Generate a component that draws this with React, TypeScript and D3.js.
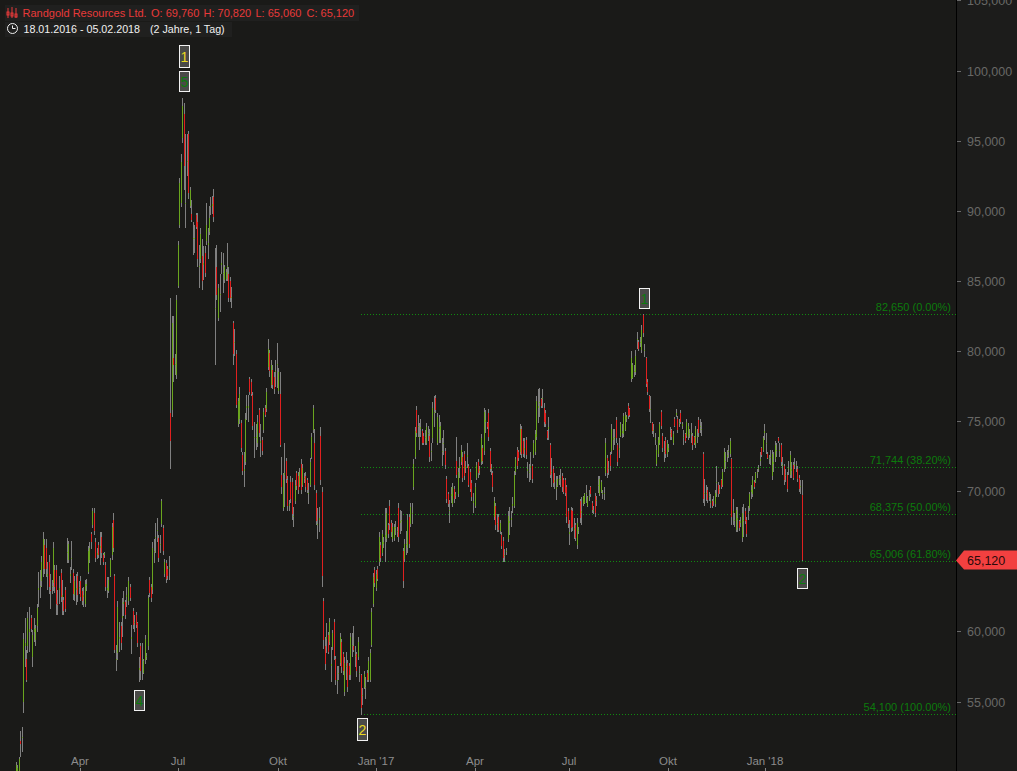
import React, { useRef, useEffect } from "react";
import * as d3 from "d3";

// daily bars 18.01.2016 - 05.02.2018, prices in hundreds
const highs = [
  490,488,485,483,486,489,492,495,498,500,
  507,505,511,529,532,599,610,587,614,618,
  612,601,610,605,620,643,644,654,671,666,
  666,650,655,641,637,664,648,648,630,640,
  645,637,625,632,667,665,646,665,645,640,
  641,643,636,640,631,632,637,638,661,664,
  671,688,688,667,660,664,671,671,656,657,
  650,639,639,653,678,685,641,591,622,607,
  607,624,629,623,632,639,634,605,617,612,
  614,607,582,592,592,581,598,585,626,639,
  634,664,666,678,681,669,669,695,676,652,
  651,647,654,838,825,825,798,840,879,924,
  941,981,977,955,955,957,917,908,892,890,
  899,899,876,888,880,875,875,906,888,904,
  910,911,916,874,876,848,855,871,870,862,
  859,877,860,853,846,822,816,801,767,775,
  751,728,728,756,769,769,782,780,771,750,
  748,755,760,748,739,760,762,774,809,801,
  794,790,785,794,806,788,785,725,713,735,
  724,711,694,711,710,689,708,715,714,717,
  723,720,713,714,710,706,724,742,762,745,
  701,688,689,746,703,624,596,606,600,610,
  589,601,609,583,576,576,599,595,586,582,
  586,580,578,599,599,604,590,586,596,576,
  570,560,572,568,573,582,588,617,642,646,
  644,647,671,664,673,668,688,688,678,694,
  680,678,677,679,675,692,687,686,660,666,
  672,684,684,692,692,723,746,761,755,749,
  752,745,742,744,749,747,745,735,764,768,
  769,756,755,750,738,744,731,711,700,694,
  703,706,704,700,739,717,725,733,728,729,
  722,735,720,716,708,699,706,721,723,718,
  741,733,760,758,750,759,731,720,715,696,
  692,684,684,680,671,668,659,660,686,689,
  686,696,715,725,732,730,748,747,738,738,
  739,721,720,728,720,737,744,768,773,774,
  767,773,763,758,744,753,735,724,718,713,
  711,711,712,716,713,710,710,705,688,680,
  689,688,681,678,681,675,695,696,697,699,
  705,697,701,704,693,690,699,697,711,711,
  708,701,703,738,726,722,728,748,745,745,
  753,735,738,750,748,756,757,755,763,760,
  800,792,790,801,814,808,810,819,827,
  805,796,780,769,768,750,748,742,733,739,
  750,758,742,736,739,737,734,746,745,743,
  753,759,754,752,758,750,744,742,752,749,
  745,749,742,740,747,745,753,752,750,728,
  709,705,703,700,698,695,697,701,718,707,
  705,709,716,731,728,730,733,738,724,695,
  685,689,689,680,682,689,691,688,682,690,
  700,705,711,708,714,716,719,728,732,740,
  748,742,728,726,730,730,728,736,735,739,
  735,735,725,720,716,714,722,729,721,721,
  724,722,718,712,708,708.2,
];

const lows = [
  470,468,466,465,468,470,472,476,480,485,
  490,490,490,511,514,542,575,564,585,586,
  600,575,593,590,600,618,624,632,639,641,
  639,630,627,616,627,629,628,612,612,620,
  621,612,612,614,649,649,635,644,623,622,
  619,621,627,622,619,618,618,629,641,649,
  659,674,669,650,652,653,648,653,648,653,
  629,624,628,639,651,657,585,572,580,586,
  587,596,611,609,618,619,622,584,602,600,
  603,589,564,566,566,570,577,580,587,625,
  621,627,649,656,664,650,656,675,655,639,
  635,637,637,716,753,778,783,780,845,888,
  903,949,915,888,925,909,902,892,869,870,
  887,860,845,863,844,851,853,876,866,883,
  897,898,892,790,837,822,828,855,842,849,
  850,850,835,835,831,790,797,760,746,748,
  728,712,703,719,751,750,769,768,744,724,
  730,732,739,725,726,742,753,757,787,782,
  774,773,770,775,774,770,732,698,686,689,
  706,686,686,692,680,675,691,701,698,703,
  698,703,706,700,699,691,703,723,742,701,
  676,666,671,705,632,588,573,585,584,591,
  564,587,580,562,556,566,576,571,569,554,
  566,557,566,566,582,586,575,568,580,564,
  541,548,559,552,564,564,564,589,618,632,
  629,636,647,650,654,660,650,664,667,673,
  668,664,665,669,668,664,670,672,631,650,
  655,656,660,675,677,701,723,739,739,730,
  739,733,733,733,733,736,721,722,735,746,
  756,733,735,735,718,726,716,692,689,678,
  692,689,692,695,710,696,710,719,707,708,
  713,717,703,700,693,685,688,708,710,712,
  719,720,726,742,745,736,714,712,700,680,
  673,671,671,670,659,650,650,655,664,669,
  675,685,688,712,716,722,726,724,725,724,
  723,710,707,708,706,724,726,737,749,753,
  760,760,746,746,737,737,710,703,703,702,
  694,703,705,703,700,698,697,678,674,662,
  671,672,666,665,659,670,678,676,690,691,
  692,689,693,696,685,684,682,690,699,697,
  699,695,694,711,710,712,715,727,730,733,
  735,718,724,739,738,739,743,750,752,753,
  778,780,782,783,802,800,803,799,810,
  796,775,769,757,749,741,739,733,718,725,
  733,745,728,721,724,725,728,737,737,733,
  746,753,742,746,748,745,733,735,738,737,
  738,735,730,733,731,735,739,742,740,692,
  690,693,692,693,688,688,690,689,696,696,
  698,702,703,714,716,721,724,725,676,676,
  675,671,671,672,675,664,668,677,668,680,
  686,695,696,702,706,710,714,718,725,728,
  737,727,723,720,719,708,714,721,725,735,
  725,718,712,705,707,700,712,710,710,708,
  716,714,707,700,698,650.6,
];

const opens = [
  475,476,472,470,472,475,478,480,484,488,
  493,492,495,522,524,550,590,581,590,600,
  610,582,600,594,604,630,632,636,645,662,
  660,640,650,630,632,635,644,644,620,630,
  642,625,623,630,656,651,640,652,642,626,
  630,640,631,636,629,625,620,633,643,651,
  670,676,685,664,655,662,660,668,655,655,
  648,630,629,640,655,680,640,580,585,595,
  604,610,620,621,625,622,632,595,615,606,
  612,606,573,590,580,571,580,582,590,637,
  632,630,657,667,672,667,662,677,674,641,
  649,645,645,756,758,795,790,783,847,890,
  906,952,969,905,935,955,904,898,880,880,
  897,892,860,866,868,862,870,879,876,885,
  903,904,910,830,860,824,840,862,855,851,
  852,860,855,850,838,820,806,798,748,752,
  749,726,715,721,760,760,780,778,769,738,
  738,735,758,735,737,744,760,759,789,799,
  776,787,782,785,790,772,770,712,688,712,
  722,708,690,707,707,682,693,713,711,705,
  720,705,709,711,708,698,705,725,744,735,
  699,676,680,740,700,622,590,595,598,593,
  576,589,607,581,565,570,578,593,584,557,
  575,578,576,569,590,590,582,584,582,570,
  569,554,561,560,571,566,566,591,620,644,
  631,645,650,662,656,663,668,666,676,690,
  678,666,667,674,671,688,678,679,658,652,
  662,660,682,677,684,703,725,758,746,738,
  745,743,740,738,735,741,740,728,738,756,
  767,735,745,737,728,734,729,709,698,686,
  697,691,702,697,722,698,717,721,725,727,
  717,725,718,714,706,692,690,710,721,715,
  721,731,729,750,749,756,729,716,713,682,
  690,677,682,672,669,665,654,657,666,678,
  680,690,690,714,730,728,728,745,736,730,
  737,715,713,717,718,726,728,739,760,763,
  766,766,760,756,743,745,733,713,716,707,
  702,704,708,709,711,708,708,703,686,670,
  687,686,673,676,662,672,693,685,691,692,
  698,690,696,703,692,686,697,693,704,698,
  700,698,698,713,724,716,726,729,737,738,
  751,733,730,740,742,741,744,752,761,759,
  780,781,785,785,808,807,806,801,826,
  800,795,778,768,758,749,743,737,720,727,
  735,757,740,728,737,727,730,741,744,735,
  752,755,752,748,756,747,738,741,740,739,
  741,741,740,739,733,739,751,746,744,727,
  698,698,701,696,692,693,693,691,706,705,
  701,708,705,716,721,725,728,727,723,685,
  679,673,680,679,678,667,679,686,680,684,
  688,700,698,707,707,713,716,722,731,730,
  742,734,727,723,724,711,720,723,729,738,
  729,733,718,718,711,712,716,712,715,719,
  719,718,716,710,703,697.6,
];

const closes = [
  482,472,470,475,480,482,485,490,492,495,
  505,503,509,520,525,595,592,566,610,602,
  602,598,602,603,617,631,633,650,666,645,
  645,641,632,629,633,660,632,620,619,631,
  625,626,615,616,657,663,641,653,627,636,
  631,626,632,625,622,626,634,634,658,660,
  664,686,672,653,656,655,661,656,650,656,
  632,631,637,651,675,660,587,581,618,596,
  592,611,621,612,626,636,624,596,605,607,
  605,592,574,572,581,579,595,583,624,628,
  624,660,658,668,673,653,663,693,658,650,
  638,640,646,736,820,790,791,837,876,920,
  935,975,932,906,936,913,915,894,881,881,
  889,866,861,884,850,863,856,890,877,895,
  904,905,896,831,840,845,841,863,856,860,
  857,861,838,838,839,798,807,762,765,770,
  731,715,716,752,761,761,771,770,747,739,
  739,750,742,736,729,757,755,771,802,786,
  790,776,773,786,791,785,733,703,708,713,
  709,690,691,695,684,683,705,704,701,714,
  701,717,710,703,701,699,721,739,760,705,
  679,677,681,708,640,594,577,596,586,607,
  577,599,583,566,566,571,596,575,572,578,
  576,561,569,596,591,587,583,572,593,571,
  546,555,570,561,566,579,585,614,639,635,
  641,638,668,653,670,664,669,685,670,677,
  671,675,675,675,672,668,679,680,636,663,
  663,680,663,689,685,720,743,742,747,739,
  746,735,735,739,746,742,725,729,760,757,
  758,753,746,747,729,735,719,695,691,687,
  698,703,695,698,712,714,718,730,710,711,
  718,726,705,702,696,693,703,719,713,716,
  738,722,757,751,746,739,716,717,703,693,
  676,678,673,678,661,653,655,658,683,679,
  681,691,712,723,718,724,745,727,727,731,
  726,716,714,718,709,735,741,765,761,764,
  761,767,750,748,738,746,712,714,706,708,
  703,709,709,710,703,700,699,682,677,671,
  674,675,674,667,678,673,681,686,696,698,
  699,696,697,698,687,687,685,694,705,709,
  707,699,699,735,713,717,718,745,738,739,
  738,721,731,748,743,754,755,753,754,755,
  795,790,786,797,809,802,807,815,813,
  801,777,771,759,759,743,744,738,730,737,
  748,747,731,729,727,735,731,742,739,741,
  747,756,744,749,750,748,739,736,750,747,
  742,742,733,735,745,740,742,747,745,695,
  699,699,694,697,693,690,694,699,707,698,
  702,703,714,728,722,726,729,736,682,686,
  680,687,681,674,679,685,680,679,670,685,
  698,701,708,703,713,714,717,723,726,738,
  743,735,724,724,725,727,721,733,730,736,
  730,721,719,708,712,702,717,726,716,710,
  720,719,709,702,704,651.2,
];

const priceTicks = [55000, 60000, 65000, 70000, 75000, 80000, 85000, 90000, 95000, 100000, 105000];
const monthLabels = ["Apr", "Jul", "Okt", "Jan '17", "Apr", "Jul", "Okt", "Jan '18"];
const monthBars = [53, 118, 185, 250, 316, 379, 445, 509.4];

const fibValues = [82650, 71744, 68375, 65006, 54100];
const fibLabels = ["0.00", "38.20", "50.00", "61.80", "100.00"];

// wave markers: bar index, label, colour, pixels from the price anchor
const markerBars = [118, 118, 89, 240, 428, 534];
const markerPrices = [98200, 98200, 56400, 54100, 82650, 65060];
const markerTexts = ["1", "5", "4", "2", "1", "2"];
const markerColors = ["#e8d820", "#0c7a0c", "#0c7a0c", "#e8d820", "#0c7a0c", "#0c7a0c"];
const markerOffsets = [-51, -25, 8, 3, -26, 7];
const markerHeights = [22, 20, 20, 22, 20, 20];
const markerDx = [6, 6, 4, 1, 1, 0];

const BG = "#1a1a18";
const WIDTH = 1017;
const HEIGHT = 771;
const AXIS_X = 956;

export default function App() {
  const svgRef = useRef<SVGSVGElement>(null);

  useEffect(() => {
    if (!svgRef.current) return;
    const svg = d3.select(svgRef.current);
    svg.selectAll("*").remove();

    const x = d3.scaleLinear().domain([0, 534]).range([1, 802]);
    const y = d3.scaleLinear().domain([55000, 100000]).range([702, 71]);
    const fmt = d3.format(",");
    const sans = "'Liberation Sans', Arial, sans-serif";

    svg.append("rect").attr("width", WIDTH).attr("height", HEIGHT).attr("fill", BG);
    svg.append("rect").attr("x", AXIS_X).attr("width", WIDTH - AXIS_X).attr("height", HEIGHT).attr("fill", "#1c1c1b");

    // fibonacci levels
    const fib = svg.append("g");
    fibValues.forEach((v, i) => {
      fib.append("line")
        .attr("x1", Math.floor(x(240))).attr("x2", AXIS_X)
        .attr("y1", Math.floor(y(v)) + 0.5).attr("y2", Math.floor(y(v)) + 0.5)
        .attr("stroke", "#108a10").attr("stroke-dasharray", "1 2")
        .attr("shape-rendering", "crispEdges");
      fib.append("text")
        .attr("x", 951).attr("y", Math.floor(y(v)) - 3)
        .attr("text-anchor", "end").attr("fill", "#0c7a0c")
        .attr("font-family", sans).attr("font-size", 11)
        .text(`${fmt(v)} (${fibLabels[i]}%)`);
    });

    // candles: 1px wick, 1px body on top
    const bars = svg.append("g").attr("shape-rendering", "crispEdges");
    highs.forEach((h, i) => {
      const px = Math.floor(x(i));
      const top = y(h * 100);
      const bottom = y(lows[i] * 100);
      bars.append("rect")
        .attr("x", px).attr("y", top).attr("width", 1).attr("height", bottom - top)
        .attr("fill", "#808080");
      const o = y(opens[i] * 100);
      const c = y(closes[i] * 100);
      bars.append("rect")
        .attr("x", px).attr("y", Math.min(o, c)).attr("width", 1)
        .attr("height", Math.max(1, Math.abs(o - c)))
        .attr("fill", closes[i] >= opens[i] ? "#6aa51e" : "#e0201f");
    });

    // wave markers
    markerBars.forEach((b, i) => {
      const mx = x(b) + markerDx[i];
      const my = y(markerPrices[i]) + markerOffsets[i];
      svg.append("rect")
        .attr("x", Math.round(mx) - 5 + 0.5).attr("y", Math.round(my) + 0.5)
        .attr("width", 10).attr("height", markerHeights[i])
        .attr("fill", "#4a4a48").attr("stroke", "#f2f2f2");
      svg.append("text")
        .attr("x", Math.round(mx) + 0.5).attr("y", Math.round(my) + markerHeights[i] / 2 + 5.5)
        .attr("text-anchor", "middle").attr("fill", markerColors[i])
        .attr("font-family", sans).attr("font-size", 14)
        .text(markerTexts[i]);
    });

    // price axis
    svg.append("line")
      .attr("x1", AXIS_X + 0.5).attr("x2", AXIS_X + 0.5).attr("y1", 0).attr("y2", HEIGHT)
      .attr("stroke", "#000");
    priceTicks.forEach((t) => {
      const py = Math.floor(y(t));
      svg.append("line")
        .attr("x1", 957).attr("x2", 961).attr("y1", py + 0.5).attr("y2", py + 0.5)
        .attr("stroke", "#6a6a6a");
      svg.append("text")
        .attr("x", 967).attr("y", py + 4.5)
        .attr("fill", "#686866").attr("font-family", sans).attr("font-size", 12.5)
        .text(fmt(t));
    });

    // time axis
    monthBars.forEach((b, i) => {
      const px = Math.floor(x(b));
      svg.append("line")
        .attr("x1", px + 0.5).attr("x2", px + 0.5).attr("y1", 768).attr("y2", HEIGHT)
        .attr("stroke", "#888");
      svg.append("text")
        .attr("x", px).attr("y", 765)
        .attr("text-anchor", "middle").attr("fill", "#8c8c8c")
        .attr("font-family", sans).attr("font-size", 11.5)
        .text(monthLabels[i]);
    });

    // last price tag
    const lastClose = closes[closes.length - 1] * 100;
    const last = Math.floor(y(lastClose));
    svg.append("path")
      .attr("d", `M${AXIS_X} ${last + 0.5} L${AXIS_X + 8} ${last - 9.5} H${WIDTH} V${last + 9.5} H${AXIS_X + 8} Z`)
      .attr("fill", "#f24040");
    svg.append("text")
      .attr("x", 967).attr("y", last + 4.5)
      .attr("fill", "#2a0a0a").attr("font-family", sans).attr("font-size", 12.5)
      .text(fmt(lastClose));

    // header
    svg.append("rect").attr("x", 5).attr("y", 5).attr("width", 354).attr("height", 16).attr("fill", "#20201f");
    svg.append("rect").attr("x", 5).attr("y", 22).attr("width", 227).attr("height", 15).attr("fill", "#20201f");

    const icon = svg.append("g").attr("stroke", "#e83a3a").attr("fill", "none");
    [8, 12, 16].forEach((ix, i) => {
      icon.append("line").attr("x1", ix).attr("x2", ix).attr("y1", 8 + (i === 1 ? -1 : 0)).attr("y2", 18);
      icon.append("rect").attr("x", ix - 1).attr("y", 12 + i).attr("width", 2).attr("height", 3);
    });

    const head = [
      ["Randgold Resources Ltd.", 22.5],
      ["O: 69,760", 151],
      ["H: 70,820", 203.5],
      ["L: 65,060", 255.5],
      ["C: 65,120", 306.5],
    ] as [string, number][];
    head.forEach(([t, tx]) => {
      svg.append("text")
        .attr("x", tx).attr("y", 17)
        .attr("fill", "#e83a3a").attr("font-family", sans).attr("font-size", 11)
        .text(t);
    });

    svg.append("circle").attr("cx", 12.5).attr("cy", 28.5).attr("r", 5)
      .attr("fill", "none").attr("stroke", "#f0f0f0").attr("stroke-width", 1);
    svg.append("path").attr("d", "M12.5 25.5 V28.5 H15.5").attr("fill", "none").attr("stroke", "#f0f0f0");
    svg.append("text").attr("x", 23.5).attr("y", 33).attr("fill", "#f0f0f0")
      .attr("font-family", sans).attr("font-size", 10.7).text("18.01.2016 - 05.02.2018");
    svg.append("text").attr("x", 150).attr("y", 33).attr("fill", "#f0f0f0")
      .attr("font-family", sans).attr("font-size", 10.7).text("(2 Jahre, 1 Tag)");
  }, []);

  return (
    <svg
      ref={svgRef}
      width={WIDTH}
      height={HEIGHT}
      style={{ position: "absolute", left: 0, top: 0, display: "block" }}
    />
  );
}
